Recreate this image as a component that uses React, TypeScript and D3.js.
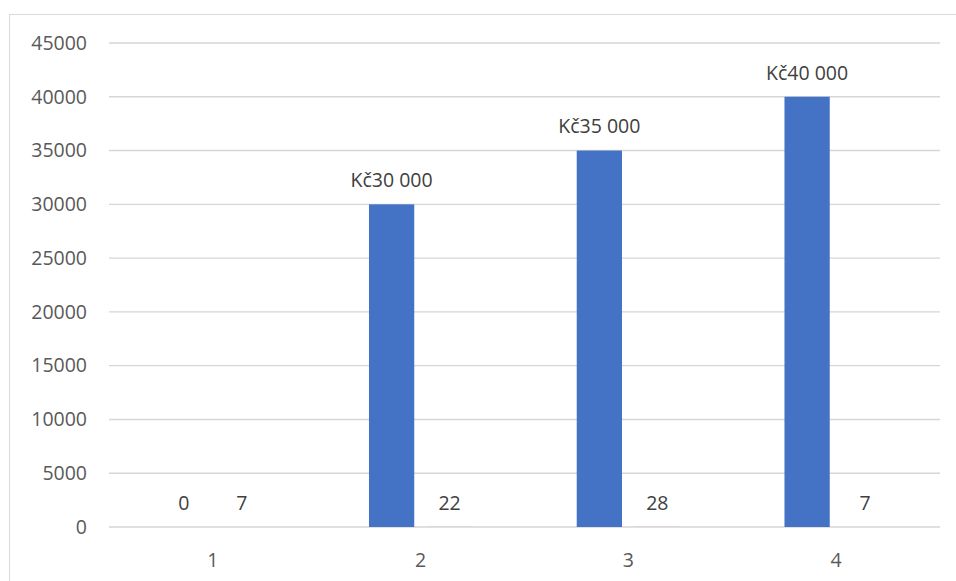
import React, { useEffect, useRef } from "react";
import * as d3 from "d3";

const categories = ["1", "2", "3", "4"];
const salaryValues = [0, 30000, 35000, 40000];
const countValues = [7, 22, 28, 7];
const salaryLabels = ["0", "Kč30 000", "Kč35 000", "Kč40 000"];
const yTicks = [0, 5000, 10000, 15000, 20000, 25000, 30000, 35000, 40000, 45000];

const W = 956;
const H = 581;
const FONT = "'Open Sans', 'Noto Sans', sans-serif";

export default function App() {
  const ref = useRef<SVGSVGElement>(null);

  useEffect(() => {
    document.body.style.margin = "0";
    const svg = d3.select(ref.current);
    svg.selectAll("*").remove();

    const left = 109, right = 940, top = 43, bottom = 527;

    // chart area border (cropped on right/bottom)
    svg.append("rect")
      .attr("x", 9.5).attr("y", 14.5)
      .attr("width", W + 20).attr("height", H + 20)
      .attr("fill", "#fff").attr("stroke", "#d9d9d9").attr("stroke-width", 1);

    const x = d3.scaleBand<string>().domain(categories).range([left, right]).paddingInner(0).paddingOuter(0);
    const series = ["salary", "count"];
    const xs = d3.scaleBand<string>().domain(series).range([0, x.bandwidth()])
      .paddingInner(0.22).paddingOuter(0.9);
    const y = d3.scaleLinear().domain([0, 45000]).range([bottom, top]);

    const salaryData = categories.map((c, i) => ({ c, v: salaryValues[i], label: salaryLabels[i] }));
    const countData = categories.map((c, i) => ({ c, v: countValues[i], label: String(countValues[i]) }));

    // second series bars (sub-pixel at this scale)
    svg.append("g").selectAll("rect").data(countData).join("rect")
      .attr("x", (d) => (x(d.c) as number) + (xs("count") as number))
      .attr("width", xs.bandwidth())
      .attr("y", (d) => y(d.v))
      .attr("height", (d) => y(0) - y(d.v))
      .attr("fill", "#ED7D31");

    // gridlines
    svg.append("g").selectAll("line").data(yTicks).join("line")
      .attr("x1", left).attr("x2", right)
      .attr("y1", (d) => y(d)).attr("y2", (d) => y(d))
      .attr("stroke", "#d6d6d6").attr("stroke-width", 1.4);

    // y tick labels
    svg.append("g").selectAll("text").data(yTicks).join("text")
      .attr("x", 87).attr("y", (d) => y(d))
      .attr("dy", "0.35em")
      .attr("text-anchor", "end")
      .attr("font-family", FONT).attr("font-size", 19.5)
      .attr("fill", "#595959")
      .text((d) => String(d));

    // category labels
    svg.append("g").selectAll("text").data(categories).join("text")
      .attr("x", (d) => (x(d) as number) + x.bandwidth() / 2)
      .attr("y", 560).attr("dy", "0.35em")
      .attr("text-anchor", "middle")
      .attr("font-family", FONT).attr("font-size", 19.5)
      .attr("fill", "#595959")
      .text((d) => d);

    // first series bars
    svg.append("g").selectAll("rect").data(salaryData).join("rect")
      .attr("x", (d) => (x(d.c) as number) + (xs("salary") as number))
      .attr("width", xs.bandwidth())
      .attr("y", (d) => y(d.v))
      .attr("height", (d) => y(0) - y(d.v))
      .attr("fill", "#4472C4");

    // data labels
    const addLabels = (data: { c: string; v: number; label: string }[], s: string) => {
      svg.append("g").selectAll("text").data(data).join("text")
        .attr("x", (d) => (x(d.c) as number) + (xs(s) as number) + xs.bandwidth() / 2)
        .attr("y", (d) => y(d.v) - 24)
        .attr("dy", "0.35em")
        .attr("text-anchor", "middle")
        .attr("font-family", FONT).attr("font-size", 19.5)
        .attr("fill", "#404040")
        .text((d) => d.label);
    };
    addLabels(salaryData, "salary");
    addLabels(countData, "count");
  }, []);

  return (
    <div style={{ position: "absolute", left: 0, top: 0 }}>
      <svg ref={ref} width={W} height={H} style={{ display: "block", background: "#fff" }} />
    </div>
  );
}
